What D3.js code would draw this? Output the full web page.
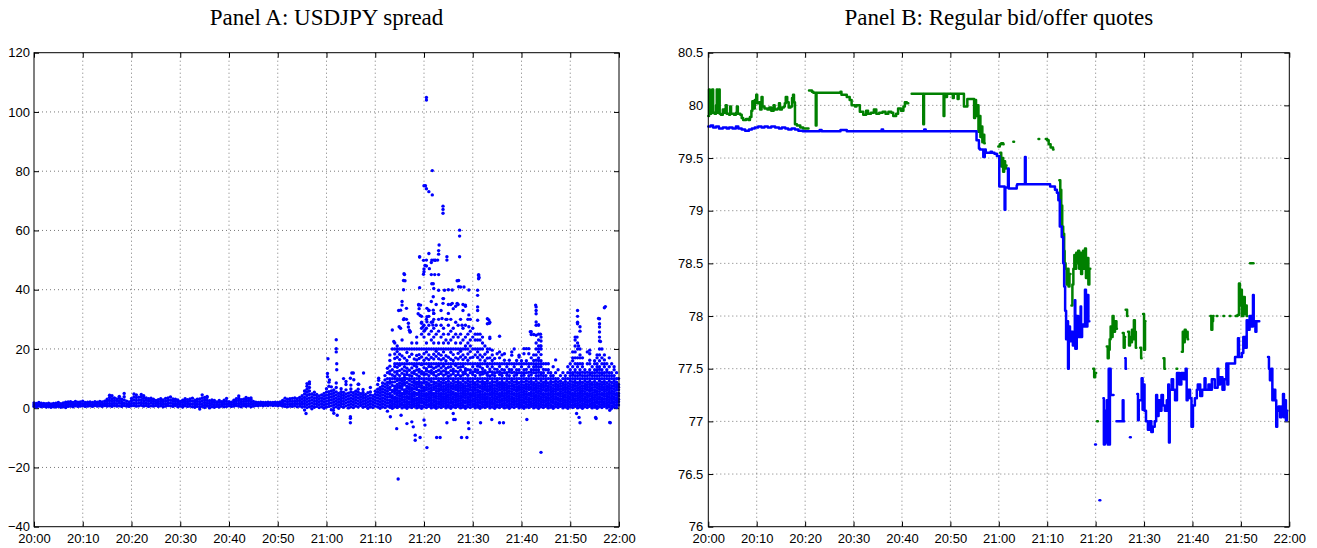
<!DOCTYPE html>
<html>
<head>
<meta charset="utf-8">
<script src="https://cdn.jsdelivr.net/npm/d3@7"></script>
<style>
  body { margin: 0; background: #fff; }
  svg { display: block; }
  .tick text { font-family: "Liberation Sans", Arial, sans-serif; font-size: 13px; fill: #000; }
  .title { font-family: "Liberation Serif", "Times New Roman", serif; font-size: 23px; fill: #000; }
</style>
</head>
<body>
<svg id="chart" width="1317" height="548"></svg>
<script>
// ---------- shared axis data ----------
const timeTicks = [0, 10, 20, 30, 40, 50, 60, 70, 80, 90, 100, 110, 120];   // minutes after 20:00
const timeLabels = ["20:00","20:10","20:20","20:30","20:40","20:50","21:00","21:10","21:20","21:30","21:40","21:50","22:00"];
const spreadTicks = [-40, -20, 0, 20, 40, 60, 80, 100, 120];
const priceTicks = [76, 76.5, 77, 77.5, 78, 78.5, 79, 79.5, 80, 80.5];
const priceLabels = ["76","76.5","77","77.5","78","78.5","79","79.5","80","80.5"];

// ---------- Panel A: spread observations, [minute, spread values...] ----------
const spreadCalm = [
[0,0.6,1.2,1.8],[0.5,0.4,1.0,1.6],[1,0.7,1.3,1.9],[1.5,0.5,1.1,1.7],[2,0.6,1.2,1.6],[2.5,0.4,1.0,1.5],
[3,0.5,1.1,1.7],[3.5,0.3,0.9,1.4],[4,0.5,1.0,1.6],[4.5,0.4,1.1,1.7],[5,0.6,1.2,1.9],[5.5,0.3,0.9,1.5],
[6,0.5,1.1,1.8],[6.5,0.2,0.8,1.4,2.0],[7,0.6,1.3,2.1],[7.5,0.7,1.4,2.2],[8,0.5,1.2,1.9],[8.5,0.8,1.5,2.3],
[9,0.6,1.3,2.0],[9.5,0.7,1.4,2.1],[10,0.8,1.5,2.4],[10.5,0.6,1.3,1.9],[11,0.7,1.4,2.0],[11.5,0.8,1.5,2.1],
[12,0.6,1.2,1.9],[12.5,0.9,1.5,2.2],[13,0.7,1.4,2.0],[13.5,0.8,1.5,2.3],[14,0.6,1.3,2.1],[14.5,0.9,1.6,2.4],
[15,0.7,1.5,2.3,3.0],[15.5,0.8,1.6,2.6,3.6,4.4],[16,0.6,1.4,2.3,3.2,4.2],[16.5,0.9,1.7,2.6,3.5],[17,0.7,1.5,2.4,3.1],
[17.5,0.8,1.7,2.5,3.4,4.0],[18,0.6,1.4,2.2,3.0],[18.5,0.9,1.8,2.8,3.9,5.0],[19,0.7,1.5,2.4],[19.5,0.6,1.3,2.1],
[20,0.8,1.6,2.5,3.3],[20.5,0.9,1.8,2.8,3.8,4.8],[21,0.7,1.6,2.6,3.6,4.5],[21.5,0.8,1.7,2.7,3.7],[22,1.0,1.9,2.9,3.9,4.6],
[22.5,0.7,1.6,2.5,3.4,4.2],[23,0.9,1.8,2.7,3.5],[23.5,0.6,1.5,2.4,3.2],[24,0.8,1.7,2.6,3.4],[24.5,0.7,1.5,2.3,3.0],
[25,0.9,1.8,2.6],[25.5,0.6,1.4,2.2,2.9],[26,0.8,1.6,2.4,3.2],[26.5,0.5,1.3,2.1,2.8],[27,0.7,1.5,2.4,3.3],
[27.5,0.9,1.7,2.6,3.5],[28,0.8,1.7,2.7,3.8],[28.5,0.6,1.4,2.3,3.1],[29,0.9,1.6,2.4,3.0],[29.5,0.5,1.3,2.1,2.8],
[30,0.7,1.5,2.3],[30.5,0.4,1.2,2.0,2.7],[31,0.8,1.6,2.4,3.2],[31.5,0.6,1.4,2.2,2.9],[32,0.7,1.5,2.4,3.1],
[32.5,0.5,1.4,2.4,3.4],[33,0.3,1.1,1.9,2.7],[33.5,0.6,1.4,2.3,3.0],[34,-0.3,0.5,1.3,2.2,3.1],[34.5,0.6,1.5,2.5,3.5,4.5],
[35,0.2,1.0,1.9,2.8,3.6],[35.5,0.7,1.6,2.6,3.6,4.0],[36,0.1,0.9,1.7,2.5],[36.5,0.5,1.3,2.1,2.8],[37,0.3,1.1,1.9,2.6],
[37.5,0.6,1.4,2.1],[38,0.4,1.2,2.0,2.6],[38.5,0.7,1.4,2.2],[39,0.5,1.3,2.1,2.7],[39.5,0.6,1.4,2.3,3.3],
[40,0.8,1.5,2.2],[40.5,0.6,1.3,2.0],[41,0.7,1.4,2.1,2.7],[41.5,0.9,1.6,2.4,3.2],[42,0.7,1.6,2.6,3.4,4.1],
[42.5,0.5,1.3,2.1,2.9],[43,0.8,1.5,2.3,3.0],[43.5,0.6,1.4,2.3,3.1,3.6],[44,0.8,1.6,2.5,3.3],[44.5,0.5,1.3,2.2,3.0,3.5],
[45,0.7,1.5,2.3],[45.5,0.9,1.5,2.0],[46,0.8,1.4,1.9],[46.5,1.0,1.6,2.0],[47,0.8,1.4,1.9],[47.5,1.0,1.5,1.9],
[48,0.9,1.5,2.0],[48.5,1.1,1.6,1.9],[49,0.9,1.4,1.9],[49.5,1.0,1.5,2.0],[50,0.8,1.4,1.9],[50.5,1.0,1.6,2.1],
[51,0.7,1.3,1.9,2.6],[51.5,0.6,1.4,2.4,3.4],[52,0.5,1.3,2.2,3.0],[52.5,0.7,1.5,2.4,3.2],[53,0.6,1.4,2.3,3.3],
[53.5,0.8,1.6,2.5,3.5],[54,0.5,1.4,2.3,3.2],[54.5,0.7,1.6,2.6,3.6]
];

const spreadOnset = [
[55,0.4,1.3,2.2,3.2,4.2],[55.5,-0.6,0.6,1.6,2.6,3.6,4.8,5.8],[56,0.2,1.2,2.2,3.2,4.3,5.4,6.4,7.4,8.3],
[56.5,0.5,1.5,2.5,3.5,4.6,5.8,7.0,8.2,8.9],[57,-0.2,0.8,1.8,2.8,3.8,4.8],[57.5,0.3,1.3,2.3,3.3,4.4,5.4],
[58,0.6,1.6,2.6,3.6,4.6],[58.5,0.2,1.2,2.2,3.2,4.1],[59,0.5,1.5,2.5,3.5,4.5],[59.5,0.0,1.0,2.0,3.0,4.0,5.0],
[60,0.4,1.4,2.4,3.4,4.4,5.5,6.6],[60.5,0.6,1.6,2.6,3.6,4.6,5.6,7.4,8.8],[61,-0.5,0.8,1.8,2.8,3.8,4.8,5.8],
[61.5,0.2,1.2,2.2,3.2,4.2,5.2,6.2],[62,0.5,1.5,2.5,3.5,4.5,5.5,7.0,8.5],[62.5,0.0,1.0,2.0,3.0,4.0,5.0],
[63,0.6,1.6,2.6,3.6,4.6,5.6,6.6],[63.5,0.3,1.3,2.3,3.3,4.3,5.3],[64,0.8,1.8,2.8,3.8,4.8,6.2,8.0],
[64.5,0.1,1.1,2.1,3.1,4.1,5.1],[65,0.5,1.5,2.5,3.5,4.5,5.5,6.5,7.8],[65.5,0.2,1.2,2.2,3.2,4.2,5.2],
[66,0.7,1.7,2.7,3.7,4.7,5.7],[66.5,0.4,1.4,2.4,3.4,4.4,5.4,6.4,8.1],[67,0.9,1.9,2.9,3.9,4.9],
[67.5,0.3,1.3,2.3,3.3,4.3,5.3,6.3],[68,0.6,1.6,2.6,3.6,4.6],[68.5,0.0,1.0,2.0,3.0,4.0,5.2],
[69,0.5,1.5,2.5,3.5,4.5,5.5,7.0],[69.5,0.2,1.2,2.2,3.2,4.2],[70,0.7,1.7,2.7,3.7,4.7,5.7],
[70.5,0.4,1.4,2.4,3.4,4.4,5.4,6.4,8.0],[71,0.0,1.0,2.0,3.0,4.0,5.0,6.0,7.0],
[71.5,0.5,1.5,2.5,3.5,4.5,5.5,6.5,7.5,8.5],[72,0.2,1.2,2.2,3.2,4.2,5.2,6.2,7.2,8.2,9.5,11],
[72.5,-1.0,0.7,1.7,2.7,3.7,4.7,5.7,6.7,7.7,8.7,10,12,13.5]
];

const spreadTurmoil = [
[73.0,0.3,1.1,2.0,2.8,3.9,4.6,5.0,6.3,7.1,8.4,9.0,10,11.6,12.5,14.2,16.1,18],
[73.5,0.0,0.8,1.6,2.5,3.4,4.2,5.5,6.0,7.7,8.8,10,11.2,13,20],
[74.0,0.5,1.3,2.2,3.0,3.7,5.0,5.9,6.6,7.4,8.9,10,10.8,12.2,14.1,15,16.8,18.3,20,22],
[74.5,0.2,0.9,1.9,2.6,3.5,4.4,5.2,6.1,7.0,8.0,9.3,10,11.5,12.4,13.8,15,17.2,19.1,20,21],
[75.0,0.6,1.4,2.3,3.2,4.1,5.0,5.7,6.9,7.6,8.5,9.6,10,11,12.7,14.5,15,16.4,18.2,20],
[75.5,0.1,1.0,1.8,2.7,3.6,4.5,5.0,6.4,7.3,8.2,9.1,10,11.8,13.2,15,17.6,20,23],
[76.0,0.4,1.2,2.1,2.9,3.8,4.7,5.5,6.2,7.9,8.6,9.5,10.4,11.3,12.6,14,15,16.9,20],
[76.5,0.0,0.7,1.6,2.4,3.3,4.0,5.0,5.8,6.7,7.4,8.7,10,11.4,12.3,13.5,15,16.1,18.8,20],
[77.0,0.5,1.3,2.1,3.1,3.9,4.8,5.6,6.5,7.2,8.1,9.4,10,11.1,12.8,15,17.4,20],
[77.5,0.2,1.0,1.9,2.7,3.5,4.3,5.0,6.0,6.8,7.8,8.9,10,10.9,12,13.6,15,18.2,20,22],
[78.0,0.6,1.5,2.3,3.0,4.0,4.9,5.4,6.6,7.5,8.4,9.2,10,11.7,12.5,14.4,15,16.6,20],
[78.5,0.1,0.9,1.7,2.6,3.4,4.5,5.0,6.3,7.0,8.0,8.8,10,11.3,12.9,14,15,16.3,17.8,20,22,24],
[79.0,0.4,1.2,2.0,2.9,3.7,4.6,5.5,6.1,7.3,8.2,9.0,10,10.8,12.2,13.1,15,16.8,18.1,20],
[79.5,0.0,0.8,1.8,2.5,3.3,4.2,5.0,5.9,6.9,7.7,8.6,10,11.6,12.4,14.7,15,17.3,20,25,27,29,31],
[80.0,0.5,1.4,2.2,3.1,4.0,4.8,5.7,6.4,7.1,8.5,9.3,10,11.2,12.0,13.7,15,16.2,18.4,20,24,26,28],
[80.5,0.2,1.1,1.9,2.8,3.6,4.4,5.0,6.2,7.0,7.9,8.8,10,11.5,12.6,13.3,15,16.9,19.0,20,22,27,30],
[81.0,0.6,1.3,2.3,3.0,3.9,4.7,5.6,6.6,7.5,8.3,9.5,10,11.0,12.3,14.1,15,16.4,18.0,20,25,28,31,33],
[81.5,0.1,0.9,1.7,2.6,3.5,4.3,5.2,6.0,6.9,7.8,9.0,10,11.8,12.7,14.0,15,17.1,20,23,26,29,36],
[82.0,0.4,1.2,2.1,2.9,3.8,4.6,5.0,6.3,7.2,8.1,8.9,10,11.3,12.1,13.5,15,16.6,18.2,20,22,24,27,30,32],
[82.5,0.0,0.8,1.6,2.5,3.4,4.1,5.0,5.8,6.7,7.6,8.6,10,10.9,12.4,13.9,15,17.5,19.2,20,25,28,35],
[83.0,0.5,1.4,2.2,3.2,4.0,4.9,5.7,6.5,7.4,8.2,9.2,10,11.4,12.8,14.3,15,16.7,18.4,20,22,26,30],
[83.5,0.2,1.0,1.9,2.7,3.6,4.4,5.0,6.1,7.0,7.9,8.8,10,11.7,12.2,13.6,15,16.3,17.9,20,24,28,33],
[84.0,0.6,1.5,2.3,3.1,3.9,4.8,5.6,6.4,7.3,8.4,9.4,10,11.1,12.6,14.2,15,16.8,19.0,20,22,25,27,37],
[84.5,0.1,0.9,1.8,2.6,3.4,4.2,5.0,6.0,6.8,7.7,8.7,10,11.5,12.3,13.4,15,16.0,17.7,20,23,30],
[85.0,0.4,1.2,2.0,2.9,3.7,4.5,5.4,6.3,7.2,8.0,9.1,10,10.8,12.0,13.8,15,17.2,20,22,25,28,32,35,40],
[85.5,0.0,0.8,1.7,2.5,3.3,4.3,5.0,5.9,6.8,7.6,8.5,10,11.2,12.7,14.0,15,16.5,18.9,20,23,26,30,35],
[86.0,0.5,1.3,2.1,3.0,3.8,4.7,5.5,6.6,7.4,8.3,9.3,10,11.6,12.4,13.2,15,16.1,18.1,20,24,27,33.6],
[86.5,0.2,1.0,1.9,2.7,3.6,4.4,5.0,6.2,7.0,7.8,8.8,10,11.0,12.5,14.4,15,17.0,20,22,25,29,34.4],
[87.0,0.6,1.4,2.3,3.2,4.0,4.9,5.8,6.5,7.3,8.2,9.0,10,11.4,12.2,13.7,15,16.6,18.5,20,24,28,35],
[87.5,0.1,0.9,1.7,2.6,3.4,4.1,5.0,6.0,6.9,7.7,8.6,10,10.9,12.8,13.9,15,17.3,19.2,20,22,25,30],
[88.0,0.4,1.2,2.0,2.8,3.7,4.6,5.4,6.3,7.1,8.0,9.2,10,11.3,12.1,14.1,15,16.4,18.0,20,23,27,33,35],
[88.5,0.0,0.8,1.8,2.5,3.5,4.3,5.0,5.9,6.7,7.6,8.7,10,11.7,12.6,13.3,15,17.1,20,21,24,28,34.4],
[89.0,0.5,1.3,2.2,3.0,3.9,4.8,5.6,6.4,7.4,8.3,9.3,10,11.1,13.0,15,16.2,18.3,20,22,25,30],
[89.5,0.2,1.1,1.9,2.7,3.6,4.4,5.0,6.1,7.0,7.9,8.9,10,12.0,12.9,15,17.0,19.1,21,23,26],
[90.0,0.6,1.4,2.3,3.1,4.0,4.7,5.5,6.3,7.2,8.1,9.0,10,11.4,12.2,14.0,15,17.2,20,24,27],
[90.5,0.1,0.9,1.6,2.5,3.3,4.2,5.0,6.0,6.8,7.7,8.6,10,11.0,12.4,13.1,15,18.0,20,23,25],
[91.0,0.4,1.2,2.0,2.9,3.7,4.5,5.4,6.2,7.1,8.0,9.1,10,12.0,12.9,14.2,15,17.1,19.0,20,23,25,29.7,33,34.2,38.1,39.8],
[91.5,0.0,0.8,1.7,2.6,3.5,4.3,5.0,5.8,6.9,7.6,8.8,10,11.2,12.1,14.0,15,16.3,18.0,20,23,25],
[92.0,0.5,1.3,2.1,3.0,3.8,4.6,5.6,6.5,7.3,8.2,9.0,10,11.5,12.3,13.4,15,17.3,20,22,24],
[92.5,0.2,1.0,1.9,2.7,3.4,4.3,5.0,6.1,7.0,7.8,8.7,10,11.9,12.7,15,16.0,18.2,21],
[93.0,0.6,1.4,2.2,3.1,3.9,4.8,5.7,6.4,7.3,8.3,9.2,10,11.1,12.0,14.1,15,16.9,19.0,20,28.5,30.2],
[93.5,0.1,0.9,1.8,2.6,3.5,4.4,5.0,6.0,6.8,7.6,8.5,10,10.9,12.4,13.2,15,17.0,20,23.5,24,29],
[94.0,0.4,1.3,2.0,2.9,3.7,4.6,5.4,6.3,7.2,8.0,9.0,10,11.3,12.2,14.0,15,16.1,18.0,19.6],
[94.5,0.0,0.8,1.6,2.5,3.3,4.2,5.0,5.9,6.7,7.7,8.8,10,11.0,12.0,13.2,15,16.8],
[95.0,0.5,1.2,2.1,3.0,3.8,4.7,5.6,6.5,7.4,8.3,9.2,10,12.1,13.1,15,18.4],
[95.5,0.2,1.0,1.9,2.7,3.6,4.3,5.0,6.1,7.0,7.9,8.6,10,11.4,12.3,14.1,15,17.0,19.0,24.3],
[96.0,0.6,1.4,2.3,3.1,4.0,4.8,5.5,6.4,7.3,8.1,9.0,10,11.0,11.9,13.1,15,18.0],
[96.5,0.1,0.9,1.7,2.6,3.4,4.2,5.0,6.0,6.9,7.7,8.5,10,12.0,12.9,15,16.2,18.4],
[97.0,0.4,1.2,2.1,2.9,3.7,4.6,5.4,6.3,7.1,8.0,9.1,10,11.1,12.0,14.0,15],
[97.5,0.0,0.8,1.6,2.5,3.3,4.1,5.0,5.8,6.7,7.6,8.7,10,11.0,12.2,13.1,15,16.2],
[98.0,0.5,1.3,2.2,3.0,3.8,4.7,5.6,6.5,7.4,8.3,9.3,10,12.0,13.0,15,17.9,19.0],
[98.5,0.2,1.1,1.9,2.7,3.5,4.4,5.0,6.1,7.0,7.8,8.8,10,11.0,12.1,14.0,15,20],
[99.0,0.6,1.4,2.3,3.2,4.0,4.9,5.7,6.4,7.2,8.1,9.0,10,11.2,12.0,13.0,15,16.1],
[99.5,0.1,0.9,1.7,2.6,3.4,4.2,5.0,6.0,6.8,7.6,8.6,10,12.0,13.0,15,17.3,17.9],
[100.0,0.4,1.2,2.0,2.8,3.7,4.5,5.4,6.3,7.1,8.0,9.0,10,11.0,12.0,14.0,15,16.0],
[100.5,0.0,0.8,1.7,2.5,3.3,4.3,5.0,5.9,6.8,7.7,8.8,10,11.1,12.0,13.0,15,18.4,20.1],
[101.0,0.5,1.3,2.1,3.0,3.9,4.7,5.6,6.5,7.3,8.2,9.2,10,12.0,13.1,15,16.0,20.1],
[101.5,0.2,1.0,1.9,2.7,3.5,4.4,5.0,6.2,7.0,7.9,8.9,10,11.0,12.1,14.0,15,18.4,20.1],
[102.0,0.6,1.4,2.2,3.1,4.0,4.8,5.5,6.4,7.2,8.1,9.0,10,11.2,12.1,13.0,15,17.0,24.9,25.8],
[102.5,0.1,0.9,1.7,2.6,3.4,4.2,5.0,6.0,6.8,7.7,8.6,10,12.0,13.0,14.0,15,16.1,18.0,24.9],
[103.0,0.4,1.2,2.0,2.9,3.7,4.5,5.4,6.3,7.1,8.0,9.1,10,11.0,12.0,13.0,14.1,15,16.2,18.0,20,22,24.6,28,29.1,31.9,33,34.2],
[103.5,0.0,0.8,1.6,2.5,3.3,4.1,5.0,5.8,6.7,7.6,8.5,10,11.0,12.1,13.0,14.0,15,16.1,17.0,19.0,20,21,23,25,28.1],
[104.0,0.5,1.3,2.2,3.0,3.8,4.7,5.6,6.4,7.3,8.2,9.2,10,11.1,12.0,14.0,15,16.0,18.1,20,21,22.7,24],
[104.5,0.2,1.0,1.9,2.7,3.6,4.4,5.0,6.1,7.0,7.8,8.7,10,11.0,12.0,13.1,15],
[105.0,0.6,1.4,2.3,3.1,3.9,4.8,5.7,6.5,7.4,8.3,9.1,10,11.0,13.0,15],
[105.5,0.1,0.9,1.7,2.6,3.4,4.3,5.0,6.0,6.8,7.6,8.5,10,12.0,13.0,15],
[106.0,0.4,1.2,2.1,2.9,3.7,4.6,5.5,6.3,7.2,8.1,9.0,10,11.0,12.0],
[106.5,0.0,0.8,1.7,2.5,3.3,4.2,5.0,5.9,6.7,7.7,8.8,10,11.0,14.0],
[107.0,0.5,1.3,2.1,3.0,3.8,4.7,5.6,6.4,7.3,8.2,9.1,10,12.0,16.3],
[107.5,0.2,1.0,1.8,2.7,3.5,4.4,5.0,6.1,7.0,7.9,8.9,10,13.0],
[108.0,0.6,1.4,2.3,3.1,4.0,4.9,5.6,6.5,7.4,8.3,9.2,11.0],
[108.5,0.1,0.9,1.7,2.6,3.4,4.2,5.0,6.0,6.8,7.7,8.6,10,12.0],
[109.0,0.4,1.2,2.0,2.8,3.7,4.5,5.4,6.3,7.1,8.0,9.0,10,11.0],
[109.5,0.0,0.8,1.6,2.5,3.3,4.1,5.0,5.9,6.7,7.6,8.5,10,12.0,14.0],
[110.0,0.5,1.3,2.2,3.0,3.9,4.7,5.5,6.4,7.3,8.2,9.1,10,11.0,12.0,13.0,15],
[110.5,0.2,1.0,1.9,2.7,3.5,4.3,5.0,6.1,7.0,7.9,8.9,10,11.1,12.0,14.0,16.0,17.0,19.0],
[111.0,0.6,1.4,2.3,3.1,4.0,4.8,5.6,6.5,7.4,8.3,9.0,10,11.0,12.1,13.0,15,17.0,19.0,21,23,24],
[111.5,0.1,0.9,1.7,2.6,3.4,4.2,5.0,6.0,6.8,7.7,8.6,10,11.0,12.0,14.0,15,17.0,20,22,28.5,29,31,33],
[112.0,0.4,1.2,2.1,2.9,3.7,4.6,5.4,6.3,7.2,8.1,9.0,10,11.1,12.0,13.0,15,17.0,18.0,20,26,27.5],
[112.5,0.0,0.8,1.6,2.5,3.3,4.2,5.0,5.9,6.7,7.6,8.7,10,11.0,12.1,14.0,15,17.0],
[113.0,0.5,1.3,2.2,3.0,3.8,4.7,5.6,6.5,7.3,8.2,9.2,10,11.0,12.0,13.0],
[113.5,0.2,1.0,1.9,2.7,3.6,4.4,5.0,6.1,7.0,7.9,8.8,10,11.0,12.1,15,19.0],
[114.0,0.6,1.4,2.3,3.1,4.0,4.9,5.7,6.4,7.3,8.2,9.1,10,11.1,12.0,13.0,15,16.2,18.4,19.6],
[114.5,0.1,0.9,1.7,2.6,3.4,4.2,5.0,6.0,6.9,7.8,8.6,10,11.0,12.0,14.0],
[115.0,0.4,1.2,2.0,2.9,3.7,4.5,5.4,6.2,7.1,8.0,9.0,10,11.0,12.0,13.0,15,16.0],
[115.5,0.0,0.8,1.7,2.5,3.3,4.3,5.0,5.9,6.8,7.7,8.5,10,11.0,12.1,13.0,14.0,15,17.0,18.0],
[116.0,0.5,1.3,2.1,3.0,3.8,4.7,5.6,6.5,7.3,8.2,9.2,10,11.0,12.0,13.1,14.0,16.0,18.0,20,22.7,24,25.7,27.4,28.5,30.2],
[116.5,0.2,1.0,1.9,2.7,3.5,4.4,5.0,6.1,7.0,7.9,8.8,10,11.1,12.0,13.0,15,17.0,20],
[117.0,0.6,1.4,2.2,3.1,4.0,4.8,5.6,6.4,7.2,8.1,9.0,10,11.0,12.0,14.0,15,16.3,18.0,33.9],
[117.5,0.1,0.9,1.7,2.6,3.4,4.2,5.0,6.0,6.8,7.6,8.6,10,11.0,12.1,13.0,15],
[118.0,0.4,1.2,2.0,2.9,3.7,4.6,5.4,6.3,7.1,8.0,9.1,10,11.0,12.0,14.0,17.0],
[118.5,0.0,0.8,1.7,2.5,3.3,4.1,5.0,5.8,6.7,7.6,8.7,10,11.0,12.0,15],
[119.0,0.5,1.3,2.1,3.0,3.8,4.7,5.6,6.5,7.4,8.3,9.2,10,11.0,13.0,14.0],
[119.5,0.2,1.0,1.9,2.7,3.5,4.4,5.0,6.1,7.0,7.9,8.8,10,12.0],
[119.9,1.1,2.2,3.0,4.1,5.0,6.2,7.1,8.0,10]
];

// isolated spread readings, [minute, spread]
const spreadOutliers = [
[55.8,-1.8],[60.2,11.7],[60.2,10.6],[60.3,16.7],[60.6,9.5],[61.0,7.2],[62.0,23.1],[62.0,20.1],[62.0,19.0],
[62.1,15],[62.1,13],[61.4,-0.7],[61.5,-1.7],[62.2,-2.4],[63.5,10],[64.0,9],[64.9,-2.9],[64.9,-4.9],[64.9,-3.4],
[65.2,11.9],[65.5,11.9],[64.9,10.1],[65.6,9.6],[67.6,11.9],[66.6,8.1],[70.7,9.4],[70.7,10.1],
[73.1,-2.9],[74.4,-6.9],[75.3,-2.4],[76.5,-5.2],[77.5,-4.6],[77.8,-6.3],[78.2,-9.1],[78.2,-10.8],[79.2,-9.9],
[80.0,-4.0],[80.2,-5.7],[80.6,-13.3],[82.6,-9.9],[83.3,-9.9],[84.7,-4.9],[86.4,-3.8],[74.7,-23.9],
[86.0,-1.8],[86.1,-3.8],[87.7,-9.9],[88.8,-9.9],[89.1,-4.9],[89.2,-6.9],[91.6,-4.9],[93.9,-3.8],[95.5,-4.9],
[96.3,-4.9],[101.1,-3.8],[104.0,-14.9],[111.3,-1.8],[111.8,-3.1],[112.0,-4.9],[115.3,-3.5],[118.2,-4.9],[118.1,-0.7],
[73.5,26.4],[73.8,22.5],[74.9,27.5],[75.2,27],[75.2,33.1],[75.5,34.8],[75.5,36],[74.8,33],[75.8,29.9],[75.9,30.2],
[75.8,40.0],[75.8,43.1],[75.9,45.4],[76.0,45.1],[76.1,43.0],[76.4,33.7],[76.4,30],[76.8,28.7],[77.2,25.8],
[76.8,27.4],[77.0,26.3],[77.1,25.7],[78.9,34.8],[79.3,34.8],[78.9,35],[79.0,33.6],[78.8,31.9],[79.2,31.3],
[79.1,40.7],[79.1,51.0],[79.9,49.9],[80.2,48.2],[79.9,45.2],[80.0,47.0],[80.0,46.1],[80.5,48.0],[80.6,33.7],
[81.0,33.1],[80.6,30.9],[80.6,29.2],[79.5,28.7],[79.8,27.5],[80.2,26.4],[80.0,75.1],[80.3,75.1],[80.5,74.1],
[81.0,73.1],[81.7,72.0],[80.5,104.9],[80.5,104.0],[81.7,80.2],[81.0,52.2],[79.1,51.1],[80.5,50.0],[81.6,50.0],
[82.0,50.0],[82.3,50.0],[82.8,50.0],[81.5,49.2],[81.1,47.1],[81.5,45.1],[82.2,45.1],[83.0,45.1],[81.6,42.0],
[81.9,42],[82.0,40.4],[81.9,37.6],[81.9,33.1],[82.0,32],[81.8,29.2],[81.8,28.1],[83.9,68.2],[83.9,67.1],
[83.9,65.8],[83.1,55.1],[83.0,53.2],[83.0,52.0],[84.7,51.1],[84.7,50.0],[82.3,49.9],[83.0,39.8],[84.2,39.8],
[83.9,37],[83.9,35.4],[83.7,30.3],[84.7,30],[85.8,39.9],[85.8,35.4],[87.3,60.1],[87.3,58.1],[87.3,51.1],
[86.8,43.0],[87.1,43.1],[87.5,40.9],[88.2,40.9],[87.1,41],[87.8,28],[86.8,35.4],[88.5,34.8],[89.2,39.9],
[89.2,31.5],[89.2,27.5],[89.5,30],[91.2,44.8],[91.2,43.7],[91.2,45.1],[91.3,44.1],[93.3,29.8],[93.4,28.7],
[102.9,34.8],[103.5,28.1],[103.9,25],[103.9,21],[111.4,24],[111.7,21],[115.8,30.3],[116.2,22.5],[117.2,34.3],
[115.2,-3.1],[118.1,-4.8],[101.8,25.8]
];

// ---------- Panel B: quotes, [minute, price]; null ends a run at that minute ----------
const bidQuotes = [
[0,79.80],[0.5,79.81],[1.0,79.79],[1.6,79.80],[2.2,79.78],[3.0,79.79],[3.8,79.78],[4.3,79.79],[5.0,79.78],
[5.7,79.80],[6.2,79.78],[6.9,79.77],[7.6,79.76],[8.4,79.77],[9.0,79.78],[9.6,79.79],[10.3,79.80],[11.0,79.79],
[11.6,79.80],[12.3,79.79],[13.0,79.80],[13.8,79.79],[14.6,79.78],[15.2,79.79],[15.9,79.78],[16.5,79.77],
[17.2,79.78],[17.9,79.77],[18.6,79.76],[19.5,79.755],[23.0,79.765],[23.4,79.755],[27.3,79.765],[28.6,79.755],
[35.8,79.77],[36.1,79.755],[44.6,79.77],[44.9,79.755],
[55.4,79.67],[55.9,79.59],[56.1,79.58],[56.8,79.51],[57.1,79.58],[57.3,79.55],[58.3,79.56],[58.6,79.55],
[59.1,79.54],[59.6,79.52],[60.1,79.23],[61.2,79.01],[61.35,79.22],[61.9,79.40],[62.05,79.21],[63.7,79.24],
[63.8,79.25],[65.4,79.51],[65.55,79.25],[70.6,79.23],[71.6,79.20],[72.0,79.17],[72.3,79.10],[72.6,78.85],
[73.0,78.75],[73.3,78.5],[73.5,78.28],[73.7,78.05],[73.9,77.78],[74.1,77.95],[74.3,77.5],[74.45,77.9],
[74.7,77.76],[75.0,77.85],[75.3,77.72],[75.7,78.15],[75.8,77.69],[76.1,78.0],[76.4,77.8],[76.9,78.09],
[77.0,77.8],[77.2,77.92],[77.5,77.9],[77.8,78.25],[78.0,77.9],[78.3,78.2],[78.5,77.95],[78.7,null],
[79.9,76.78],[80.05,null],
[80.8,76.25],[80.95,null],
[81.6,77.22],[81.7,76.78],[81.9,77.1],[82.1,76.8],[82.3,77.2],[82.5,76.78],[82.7,77.5],[82.8,76.78],
[82.95,77.5],[83.1,77.25],[83.7,null],
[84.3,77.0],[85.6,77.2],[85.75,77.0],[85.9,null],
[86.1,77.6],[86.2,77.5],[86.3,null],
[87.1,76.85],[87.25,null],
[88.6,77.26],[88.75,77.01],[88.9,77.2],[89.5,77.41],[89.7,77.11],[89.9,77.35],[90.1,77.1],[90.4,77.0],
[90.8,76.92],[91.2,77.0],[91.5,76.9],[91.8,76.95],[92.2,77.0],[92.5,77.25],[92.7,77.05],[93.0,77.2],
[93.3,77.1],[93.6,77.25],[93.9,77.15],[94.3,77.1],[94.7,77.2],[95.0,77.35],[95.15,76.8],[95.3,77.3],
[95.7,77.4],[96.0,77.3],[96.4,77.2],[96.8,77.46],[97.3,77.35],[97.7,77.46],[98.2,77.4],[98.6,77.5],
[98.8,77.2],[99.0,77.3],[99.5,77.22],[99.8,76.95],[100.1,77.15],[100.5,77.22],[100.9,77.3],[101.1,77.35],
[101.6,77.24],[102.0,77.3],[102.5,77.41],[102.7,77.3],[103.3,77.35],[103.6,77.3],[104.0,77.4],[104.6,77.32],
[105.2,77.5],[105.35,77.35],[105.7,77.42],[106.2,77.3],[106.6,77.4],[107.0,77.55],[107.2,77.35],[107.4,77.55],
[108.8,77.61],[109.4,77.79],[109.6,77.61],[110.2,77.65],[110.5,77.8],[110.9,77.7],[111.2,77.96],[111.35,77.87],
[111.8,78.0],[112.2,77.9],[112.5,78.2],[112.65,77.95],[113.0,77.85],[113.2,77.95],[113.8,null],
[115.6,77.61],[115.8,77.5],[116.0,77.39],[116.3,77.5],[116.5,77.2],[116.8,77.3],[117.1,77.2],[117.3,76.95],
[117.5,77.1],[117.8,77.14],[118.1,77.04],[118.4,77.14],[118.7,77.26],[118.9,77.04],[119.1,77.2],[119.3,77.01],
[119.5,77.1],[119.6,null]
];

const offerQuotes = [
[0,79.90],[0.15,80.15],[0.3,79.92],[0.6,79.95],[0.8,80.15],[1.0,79.93],[1.3,79.92],[1.6,80.0],[1.75,80.15],
[1.9,79.93],[2.2,80.15],[2.35,79.92],[2.6,79.91],[3.0,79.96],[3.3,79.93],[3.6,80.0],[3.8,79.92],[4.3,79.91],
[4.5,79.99],[4.7,79.92],[5.3,79.91],[5.7,79.93],[5.9,79.99],[6.1,79.92],[6.6,79.91],[6.9,79.88],[7.2,79.86],
[7.8,79.87],[8.3,79.86],[8.6,79.89],[8.9,79.95],[9.1,80.04],[9.3,79.97],[9.6,80.05],[9.9,80.1],[10.1,80.02],
[10.5,80.03],[10.7,79.96],[11.0,80.08],[11.2,79.99],[11.6,79.97],[12.2,79.96],[12.6,79.98],[13.0,79.95],
[13.5,80.0],[13.7,79.96],[14.3,79.97],[14.6,80.02],[14.8,79.96],[15.2,79.98],[15.6,79.99],[15.8,80.02],
[16.0,80.08],[16.3,80.03],[16.6,79.98],[17.0,79.99],[17.3,80.07],[17.5,80.1],[17.7,80.03],[17.9,79.82],
[18.3,79.81],[19.0,79.79],[19.6,79.78],[20.7,null],
[20.8,80.14],[21.4,80.13],[21.7,80.12],[22.2,79.81],[22.35,80.12],[27.3,80.13],[27.5,80.10],[28.6,80.08],
[29.2,80.05],[29.6,80.0],[30.3,79.99],[30.6,80.0],[31.3,79.94],[32.0,79.91],[32.6,79.95],[33.0,79.92],
[33.6,79.93],[34.2,79.96],[34.7,79.92],[35.3,79.93],[36.0,79.94],[36.6,79.92],[37.2,79.94],[37.8,79.93],
[38.2,79.90],[38.8,79.92],[39.2,79.97],[39.8,79.95],[40.3,79.99],[40.6,80.03],[41.0,80.02],[41.3,null],
[42.0,80.11],[44.3,80.11],[44.4,79.82],[44.55,80.11],[48.5,80.11],[48.6,79.9],[48.75,80.11],[49.1,80.08],
[49.3,80.11],[50.5,80.07],[50.7,80.11],[51.5,80.06],[51.7,80.11],[52.8,79.99],[53.5,80.06],[54.9,79.88],
[55.1,80.05],[55.3,79.9],[55.6,80.0],[55.8,79.75],[56.0,79.9],[56.2,79.7],[56.4,79.8],[56.6,79.65],
[56.8,79.72],[57.0,79.64],[57.1,null],
[59.9,79.61],[60.2,79.63],[60.5,79.64],[60.9,79.63],[61.0,null],
[60.3,79.55],[60.5,79.42],[60.7,79.5],[60.9,79.37],[61.1,79.47],[61.3,79.4],[61.5,79.43],[61.6,null],
[63.0,79.655],[63.15,null],
[68.2,79.68],[68.35,null],
[69.7,79.68],[70.0,79.67],[70.3,79.63],[70.7,79.60],[71.2,79.58],[71.3,null],
[72.5,79.29],[72.7,79.1],[72.8,79.2],[72.9,78.95],[73.0,79.05],[73.1,78.85],[73.3,78.78],[73.5,78.62],
[73.6,78.5],[73.8,78.45],[74.0,78.3],[74.2,78.45],[74.4,78.28],[74.6,78.4],[74.8,null],
[75.0,78.1],[75.2,78.3],[75.4,78.45],[75.6,78.58],[75.8,78.45],[76.0,78.6],[76.2,78.5],[76.4,78.62],
[76.6,78.45],[76.8,78.6],[77.0,78.4],[77.2,78.55],[77.4,78.62],[77.6,78.45],[77.8,78.64],[78.0,78.36],
[78.2,78.55],[78.5,78.3],[78.7,78.45],[78.9,null],
[79.5,77.5],[79.7,77.42],[79.9,77.46],[80.1,null],
[80.3,77.0],[80.45,null],
[82.3,77.71],[82.5,77.6],[82.7,77.68],[82.9,77.78],[83.1,77.9],[83.3,77.8],[83.5,78.0],[83.7,77.85],
[84.0,77.95],[84.3,77.88],[84.4,null],
[85.6,77.84],[85.8,77.7],[86.0,77.8],[86.1,null],
[86.2,78.06],[86.5,78.0],[86.6,null],
[86.7,77.85],[86.9,77.72],[87.1,77.8],[87.3,77.75],[87.5,77.87],[87.7,77.78],[87.9,77.96],[88.1,77.85],
[88.3,77.7],[88.4,null],
[89.2,77.7],[89.4,77.6],[89.5,null],
[89.8,78.02],[90.0,77.68],[90.2,77.95],[90.3,null],
[94.0,77.6],[94.2,77.5],[94.35,null],
[96.7,77.5],[96.85,null],
[97.8,77.66],[98.0,77.85],[98.2,77.75],[98.4,77.87],[98.6,77.8],[98.8,77.85],[99.0,77.78],[99.1,null],
[103.7,78.0],[103.9,77.87],[104.1,77.95],[104.25,78.0],[104.35,null],
[105.0,78.0],[105.15,null],
[106.4,78.0],[106.55,null],
[107.7,78.0],[107.85,null],
[108.9,78.0],[109.3,78.01],[109.6,78.31],[109.8,78.1],[110.0,78.25],[110.2,78.0],[110.5,78.18],[110.8,78.02],
[111.0,78.1],[111.2,78.0],[111.3,null],
[111.9,78.5],[112.5,78.5],[112.6,null]
];

// ---------- layout ----------
const svg = d3.select("#chart");
const panelA = { left: 34, right: 619, top: 52.7, bottom: 526.7 };
const panelB = { left: 708.3, right: 1289.3, top: 52.7, bottom: 526.7 };
const tickLen = 5;

function drawFrame(p, y, yTicks, yFormat, yPad, title) {
  const x = d3.scaleLinear().domain([0, 120]).range([p.left, p.right]);
  const g = svg.append("g");

  // dotted grid
  const grid = g.append("g").attr("stroke", "#7a7a7a").attr("stroke-width", 1)
    .attr("stroke-dasharray", "1,3").attr("fill", "none");
  timeTicks.slice(1, -1).forEach(t => grid.append("line")
    .attr("x1", x(t)).attr("x2", x(t)).attr("y1", p.top).attr("y2", p.bottom));
  yTicks.slice(1, -1).forEach(v => grid.append("line")
    .attr("x1", p.left).attr("x2", p.right).attr("y1", y(v)).attr("y2", y(v)));

  const fmtX = t => timeLabels[timeTicks.indexOf(t)];
  const bottom = g.append("g").attr("transform", `translate(0,${p.bottom})`)
    .call(d3.axisBottom(x).tickValues(timeTicks).tickFormat(fmtX).tickSizeInner(-tickLen).tickSizeOuter(0).tickPadding(7));
  const top = g.append("g").attr("transform", `translate(0,${p.top})`)
    .call(d3.axisTop(x).tickValues(timeTicks).tickFormat("").tickSizeInner(-tickLen).tickSizeOuter(0));
  const left = g.append("g").attr("transform", `translate(${p.left},0)`)
    .call(d3.axisLeft(y).tickValues(yTicks).tickFormat(yFormat).tickSizeInner(-tickLen).tickSizeOuter(0).tickPadding(yPad));
  const right = g.append("g").attr("transform", `translate(${p.right},0)`)
    .call(d3.axisRight(y).tickValues(yTicks).tickFormat("").tickSizeInner(-tickLen).tickSizeOuter(0));
  [bottom, top, left, right].forEach(a => {
    a.select(".domain").remove();
    a.selectAll(".tick line").attr("stroke", "#000");
  });

  svg.append("text").attr("class", "title")
    .attr("x", (p.left + p.right) / 2).attr("y", 25).attr("text-anchor", "middle").text(title);
  return { x, g };
}

function drawBox(p) {
  svg.append("rect").attr("x", p.left).attr("y", p.top)
    .attr("width", p.right - p.left).attr("height", p.bottom - p.top)
    .attr("fill", "none").attr("stroke", "#000").attr("stroke-width", 1);
}

// ---------- Panel A ----------
const yA = d3.scaleLinear().domain([-40, 120]).range([panelA.bottom, panelA.top]);
const fA = drawFrame(panelA, yA, spreadTicks, d => d3.format("d")(d).replace("-", "\u2212"), 4, "Panel A: USDJPY spread");

const spreadPoints = [...spreadCalm, ...spreadOnset, ...spreadTurmoil]
  .flatMap(([t, ...vals]) => vals.map(v => [t, v]))
  .concat(spreadOutliers);

svg.append("g").attr("fill", "#0000ff")
  .selectAll("circle").data(spreadPoints).join("circle")
  .attr("cx", d => fA.x(d[0])).attr("cy", d => yA(d[1])).attr("r", 1.7);
drawBox(panelA);

// ---------- Panel B ----------
const yB = d3.scaleLinear().domain([76, 80.5]).range([panelB.bottom, panelB.top]);
const fB = drawFrame(panelB, yB, priceTicks, d => priceLabels[priceTicks.indexOf(d)], 5, "Panel B: Regular bid/offer quotes");

// split a quote list into runs; a null price closes the run at that minute
function runs(series) {
  const out = [];
  let cur = [];
  series.forEach(([t, v]) => {
    if (v == null) {
      if (cur.length) { cur.push([t, cur[cur.length - 1][1]]); out.push(cur); }
      cur = [];
    } else cur.push([t, v]);
  });
  if (cur.length) out.push(cur);
  return out;
}

const stepLine = d3.line().x(d => fB.x(d[0])).y(d => yB(d[1])).curve(d3.curveStepAfter);
const quoteLayer = svg.append("g").attr("fill", "none").attr("stroke-width", 2.5)
  .attr("stroke-linejoin", "round").attr("stroke-linecap", "round");

quoteLayer.append("g").attr("stroke", "#008000")
  .selectAll("path").data(runs(offerQuotes)).join("path").attr("d", stepLine);
quoteLayer.append("g").attr("stroke", "#0000ff")
  .selectAll("path").data(runs(bidQuotes)).join("path").attr("d", stepLine);
drawBox(panelB);
</script>
</body>
</html>
